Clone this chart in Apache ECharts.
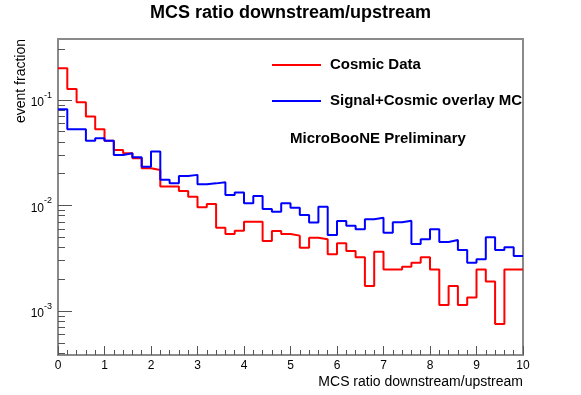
<!DOCTYPE html>
<html>
<head>
<meta charset="utf-8">
<title>MCS ratio downstream/upstream</title>
<script src="https://cdn.jsdelivr.net/npm/echarts@6/dist/echarts.min.js"></script>
<style>
  html, body { margin: 0; padding: 0; background: #fff; }
  #chart { width: 581px; height: 395px; }
</style>
</head>
<body>
<div id="chart"></div>
<script>
// 50 bins of width 0.2 between 0 and 10
const binWidth = 0.2
const xRange = [0, 10]
const yRange = [3.83e-4, 0.378]

const cosmicData = [
  0.200, 0.127, 0.095, 0.0695, 0.0527, 0.0411, 0.0336, 0.0312, 0.0280, 0.0225,
  0.0217, 0.0151, 0.0151, 0.0137, 0.0121, 0.0096, 0.0103, 0.00616, 0.00537, 0.00577,
  0.00702, 0.00702, 0.00461, 0.00573, 0.00537, 0.00518, 0.00398, 0.00495, 0.00478, 0.00345,
  0.00438, 0.00371, 0.00323, 0.00173, 0.00365, 0.00248, 0.00248, 0.00263, 0.00287, 0.00323,
  0.00248, 0.00114, 0.00173, 0.00114, 0.00134, 0.00248, 0.00190, 0.000753, 0.00248, 0.00248,
]

const overlayMC = [
  0.0816, 0.0527, 0.0527, 0.0411, 0.0434, 0.0411, 0.0301, 0.0312, 0.0286, 0.0233,
  0.0325, 0.0175, 0.0162, 0.0190, 0.0195, 0.0159, 0.0162, 0.0166, 0.0126, 0.0133,
  0.0105, 0.0123, 0.00927, 0.00874, 0.0105, 0.00953, 0.00813, 0.00688, 0.00975, 0.00525,
  0.00713, 0.00644, 0.00595, 0.00740, 0.00766, 0.00552, 0.00693, 0.00718, 0.00431, 0.00478,
  0.00595, 0.00451, 0.00471, 0.00379, 0.00287, 0.00309, 0.00500, 0.00379, 0.00402, 0.00332,
]

const yMajorTicks = [1e-3, 1e-2, 1e-1]
const yMinorTicks = [
  4e-4, 5e-4, 6e-4, 7e-4, 8e-4, 9e-4,
  2e-3, 3e-3, 4e-3, 5e-3, 6e-3, 7e-3, 8e-3, 9e-3,
  2e-2, 3e-2, 4e-2, 5e-2, 6e-2, 7e-2, 8e-2, 9e-2,
  0.2, 0.3,
]

const font = "'Liberation Sans', Arial, Helvetica, sans-serif"
const frameColor = '#8a8a8a'
const tickColor = '#555'

// points at bin low edges, step 'end' keeps each value across its bin
function toSteps(values) {
  const pts = values.map((v, i) => [i * binWidth, v])
  pts.push([values.length * binWidth, values[values.length - 1]])
  return pts
}

function powerLabel(value) {
  const exp = Math.round(Math.log10(value))
  return '{p|\u200b}{b|10}{s|' + exp + '}'
}

const chart = echarts.init(document.getElementById('chart'))

chart.setOption({
  animation: false,
  textStyle: { fontFamily: font },
  title: {
    text: 'MCS ratio downstream/upstream',
    left: 'center',
    top: 4,
    padding: 0,
    textStyle: { fontFamily: font, fontSize: 18, fontWeight: 'bold', color: '#000' },
  },
  grid: {
    left: 58,
    right: 58,
    top: 39,
    bottom: 40,
    show: true,
    borderColor: frameColor,
    borderWidth: 2,
  },
  legend: {
    orient: 'vertical',
    left: 272,
    top: 57,
    padding: 0,
    itemWidth: 49,
    itemHeight: 2,
    itemGap: 20,
    icon: 'rect',
    selectedMode: false,
    textStyle: {
      fontFamily: font,
      fontSize: 15,
      fontWeight: 'bold',
      color: '#000',
      lineHeight: 16,
      padding: [0, 0, 0, 4],
    },
    data: ['Cosmic Data', 'Signal+Cosmic overlay MC'],
  },
  xAxis: {
    type: 'value',
    min: xRange[0],
    max: xRange[1],
    interval: 1,
    name: 'MCS ratio downstream/upstream',
    nameLocation: 'end',
    nameGap: 0,
    nameTextStyle: {
      fontFamily: font,
      fontSize: 14,
      color: '#000',
      align: 'right',
      verticalAlign: 'top',
      padding: [20, 0, 0, 0],
    },
    axisLine: { lineStyle: { color: frameColor, width: 2 } },
    axisTick: { inside: true, length: 9, lineStyle: { color: tickColor } },
    minorTick: { show: true, splitNumber: 5, length: 5, lineStyle: { color: tickColor } },
    axisLabel: { margin: 5, fontSize: 12, color: '#000', fontFamily: font },
    splitLine: { show: false },
  },
  yAxis: [
    {
      type: 'log',
      min: yRange[0],
      max: yRange[1],
      axisLine: { show: true, lineStyle: { color: frameColor, width: 2 } },
      axisTick: { inside: true, length: 14, customValues: yMajorTicks, lineStyle: { color: tickColor } },
      axisLabel: {
        margin: 6,
        color: '#000',
        fontFamily: font,
        customValues: yMajorTicks,
        formatter: powerLabel,
        rich: {
          p: { lineHeight: 18 },
          b: { fontSize: 12, lineHeight: 12, verticalAlign: 'bottom', fontFamily: font },
          s: { fontSize: 9, lineHeight: 10, verticalAlign: 'top', fontFamily: font },
        },
      },
      splitLine: { show: false },
    },
    {
      type: 'log',
      min: yRange[0],
      max: yRange[1],
      position: 'left',
      axisLine: { show: false },
      axisTick: { inside: true, length: 7, customValues: yMinorTicks, lineStyle: { color: tickColor } },
      axisLabel: { show: false },
      splitLine: { show: false },
    },
  ],
  graphic: [
    {
      type: 'text',
      x: 21,
      y: 39,
      rotation: Math.PI / 2,
      style: {
        text: 'event fraction',
        fontFamily: font,
        fontSize: 14,
        fill: '#000',
        align: 'right',
        verticalAlign: 'middle',
      },
    },
    {
      type: 'text',
      x: 290,
      y: 139,
      style: {
        text: 'MicroBooNE Preliminary',
        fontFamily: font,
        fontSize: 15,
        fontWeight: 'bold',
        fill: '#000',
        align: 'left',
        verticalAlign: 'middle',
      },
    },
  ],
  series: [
    {
      name: 'Cosmic Data',
      type: 'line',
      step: 'end',
      showSymbol: false,
      color: '#ff0000',
      lineStyle: { width: 2, color: '#ff0000' },
      data: toSteps(cosmicData),
    },
    {
      name: 'Signal+Cosmic overlay MC',
      type: 'line',
      step: 'end',
      showSymbol: false,
      color: '#0000ff',
      lineStyle: { width: 2, color: '#0000ff' },
      data: toSteps(overlayMC),
    },
  ],
})
</script>
</body>
</html>
